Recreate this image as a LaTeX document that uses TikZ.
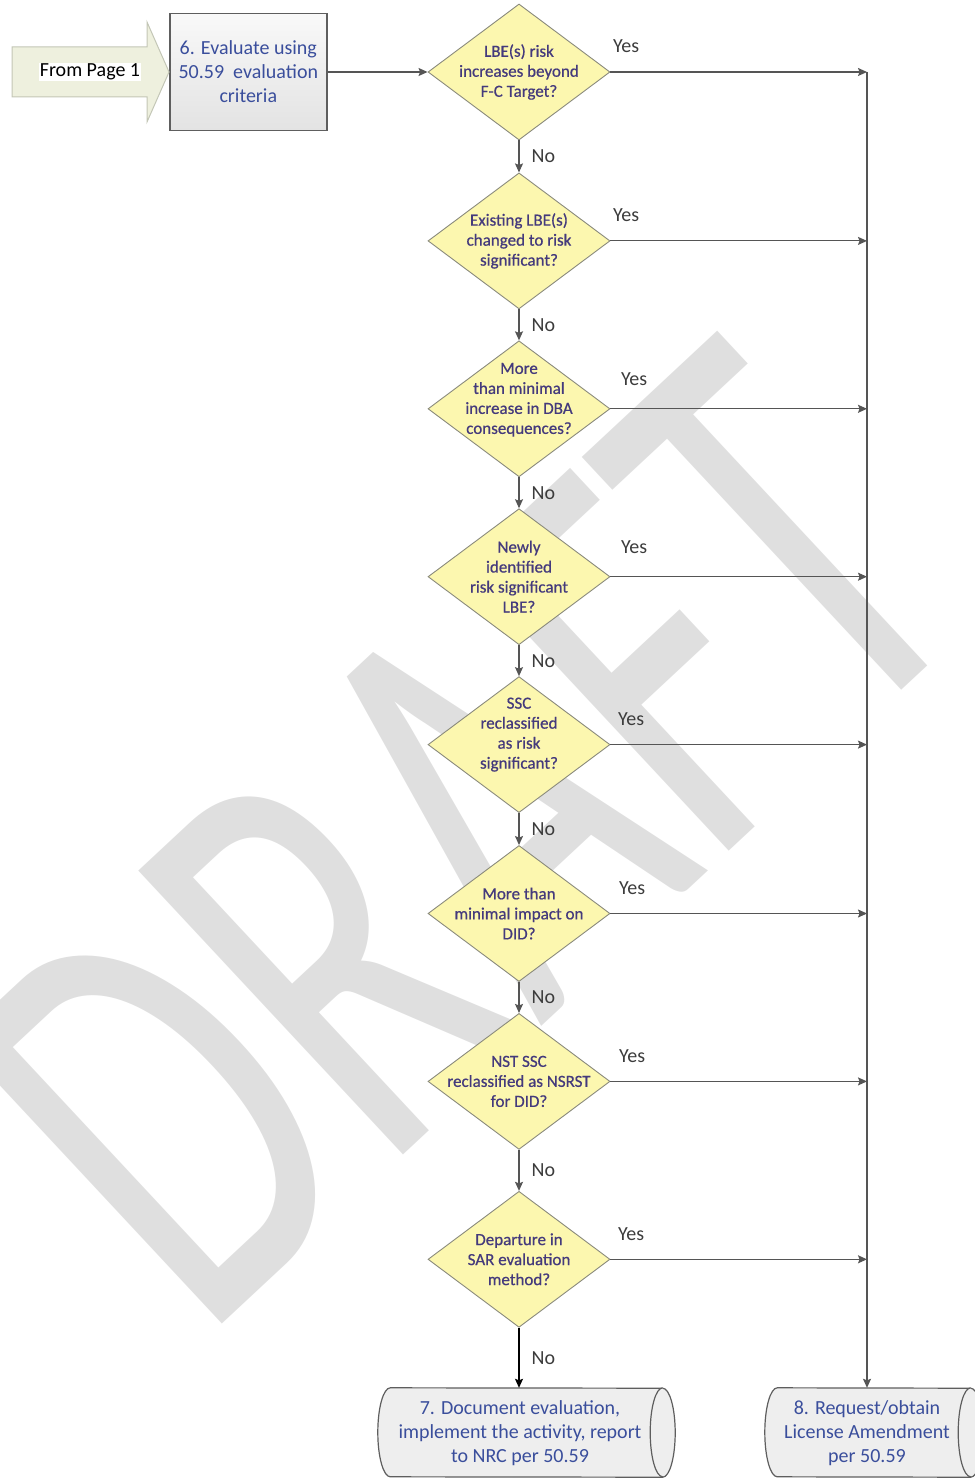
\documentclass[tikz,border=0pt]{standalone}
\usepackage{fontspec}
\setmainfont{Carlito}
\newfontfamily\qfont{Carlito}[FakeBold=0.6]
\usetikzlibrary{positioning}
\usetikzlibrary{arrows,arrows.meta}
\usetikzlibrary{shapes.geometric}

\definecolor{qfill}{HTML}{FCF7AF}
\definecolor{qline}{HTML}{8A8A7C}
\definecolor{qtxt}{HTML}{443A7C}
\definecolor{boxtxt}{HTML}{3A4E9C}
\definecolor{boxline}{HTML}{5E5E5E}
\definecolor{linegray}{HTML}{555555}
\definecolor{lblgray}{HTML}{3C3C3C}
\definecolor{pagefill}{HTML}{EEF0DE}
\definecolor{pageline}{HTML}{C3C6B6}
\definecolor{wmark}{HTML}{DFDFDF}

% outline of a stored-data box round a body node
\newcommand*{\DrawStore}[1]{%
  \filldraw[storeline] (#1.north west)
      arc[start angle=270, end angle=90, x radius=12.5, y radius=44.5]
      -- (#1.south east)
      arc[start angle=90, end angle=-90, x radius=12.5, y radius=44.5] -- cycle;
  \draw[storeline] (#1.north east)
      arc[start angle=270, end angle=90, x radius=12.5, y radius=44.5];}

\begin{document}
\begin{tikzpicture}[x=1pt,y=-1pt,
    decision/.style={diamond, draw=qline, fill=qfill, line width=0.9pt,
        aspect=1.34, minimum width=182pt, minimum height=136pt, inner sep=0pt},
    qtext/.style={align=center, text=qtxt, inner sep=0pt,
        font=\qfont\fontsize{17}{20}\selectfont},
    process/.style={draw=boxline, line width=1.5pt, top color=gray!5,
        bottom color=gray!22, align=center, text=boxtxt,
        minimum width=157pt, minimum height=117pt,
        font=\fontsize{20}{24}\selectfont},
    storebody/.style={rectangle, inner sep=0pt, minimum height=89pt},
    storeline/.style={draw=boxline, line width=1.2pt, fill=gray!13},
    storetext/.style={align=center, text=boxtxt, inner sep=0pt,
        font=\fontsize{20}{24}\selectfont},
    flow/.style={-{Stealth[length=9pt, width=8pt, inset=1.5pt]},
        draw=linegray, line width=1.2pt},
    yes/.style={pos=0, anchor=base west, xshift=2pt, yshift=19pt,
        text=lblgray, inner sep=0pt, font=\fontsize{20}{20}\selectfont},
    nolbl/.style={midway, right, xshift=12pt, text=lblgray, inner sep=0pt,
        font=\fontsize{20}{20}\selectfont},
    watermark/.style={text=wmark, inner sep=0pt,
        font=\fontsize{605}{605}\selectfont}
    ]
\useasboundingbox (0,0) rectangle (974,1479);

% Watermark
\node[watermark, rotate=43, xscale=0.66] (draft) at (462,835) {DRAFT};

% Decisions
\node[decision] (d1) at (519,72) {};
\node[decision, below=32pt of d1] (d2) {};
\node[decision, below=31pt of d2] (d3) {};
\node[decision, below=31pt of d3] (d4) {};
\node[decision, below=31pt of d4] (d5) {};
\node[decision, below=32pt of d5] (d6) {};
\node[decision, below=31pt of d6] (d7) {};
\node[decision, below=41pt of d7] (d8) {};

\node[qtext] (q1) at (d1) {LBE(s) risk\\increases beyond\\F-C Target?};
\node[qtext] (q2) at (d2) {Existing LBE(s)\\changed to risk\\significant?};
\node[qtext, yshift=9pt] (q3) at (d3) {More\\than minimal\\increase in DBA\\consequences?};
\node[qtext] (q4) at (d4) {Newly\\identified\\risk significant\\LBE?};
\node[qtext, yshift=10pt] (q5) at (d5) {SSC\\reclassified\\as risk\\significant?};
\node[qtext] (q6) at (d6) {More than\\minimal impact on\\DID?};
\node[qtext] (q7) at (d7) {NST SSC\\reclassified as NSRST\\for DID?};
\node[qtext] (q8) at (d8) {Departure in\\SAR evaluation\\method?};

% Step 6
\node[process, left=100pt of d1] (eval) {6. Evaluate using\\50.59\ \ evaluation\\criteria};

% Off-page connector
\draw[draw=pageline, fill=pagefill, line width=1pt]
    (12,47) -- (147,47) -- (147,22) -- (eval.west) -- (147,122) -- (147,97) -- (12,97) -- cycle;
\node[fill=white, inner sep=1pt, font=\fontsize{20}{20}\selectfont] (from) at (90,72) {From Page 1};

% Steps 7 and 8
\node[storebody, minimum width=272pt] (b7) at (526.5,1432.5) {};
\DrawStore{b7}
\node[storetext] (t7) at (520,1433) {7. Document evaluation,\\implement the activity, report\\to NRC per 50.59};
\node[storebody, minimum width=193pt] (b8) at (874,1432.5) {};
\DrawStore{b8}
\node[storetext] (t8) at (867,1433) {8. Request/obtain\\License Amendment\\per 50.59};

\coordinate (rail) at (867,72);

\draw[flow] (eval.east) -- (d1.west);

\draw[flow] (d1.south) -- (d2.north) node[nolbl]{No};
\draw[flow] (d2.south) -- (d3.north) node[nolbl]{No};
\draw[flow] (d3.south) -- (d4.north) node[nolbl]{No};
\draw[flow] (d4.south) -- (d5.north) node[nolbl]{No};
\draw[flow] (d5.south) -- (d6.north) node[nolbl]{No};
\draw[flow] (d6.south) -- (d7.north) node[nolbl]{No};
\draw[flow] (d7.south) -- (d8.north) node[nolbl]{No};
\draw[flow, draw=black] (d8.south) -- (d8.south |- b7.north) node[nolbl]{No};

\draw[flow] (d1.east) -- (d1.east -| rail) node[yes]{Yes};
\draw[flow] (d2.east) -- (d2.east -| rail) node[yes]{Yes};
\draw[flow] (d3.east) -- (d3.east -| rail) node[yes, xshift=8pt, yshift=4pt]{Yes};
\draw[flow] (d4.east) -- (d4.east -| rail) node[yes, xshift=8pt, yshift=4pt]{Yes};
\draw[flow] (d5.east) -- (d5.east -| rail) node[yes, xshift=5pt]{Yes};
\draw[flow] (d6.east) -- (d6.east -| rail) node[yes, xshift=6pt]{Yes};
\draw[flow] (d7.east) -- (d7.east -| rail) node[yes, xshift=6pt]{Yes};
\draw[flow] (d8.east) -- (d8.east -| rail) node[yes, xshift=5pt]{Yes};

\draw[flow] (rail) -- (rail |- b8.north);
\end{tikzpicture}
\end{document}
